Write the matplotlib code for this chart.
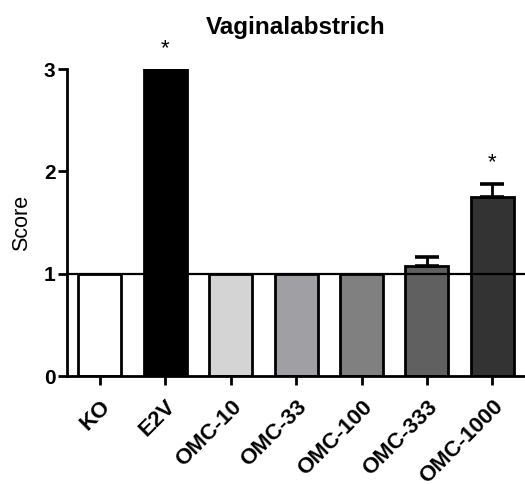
import numpy as np
import matplotlib.pyplot as plt
import matplotlib.transforms as mtransforms

plt.rcParams['font.family'] = ['Liberation Sans', 'DejaVu Sans']

groups = ["KO", "E2V", "OMC-10", "OMC-33", "OMC-100", "OMC-333", "OMC-1000"]
scores = [1.0, 3.0, 1.0, 1.0, 1.0, 1.08, 1.75]
sem = [0.0, 0.0, 0.0, 0.0, 0.0, 0.08, 0.13]
significant = [False, True, False, False, False, False, True]
colors = ["#ffffff", "#000000", "#d4d4d4", "#a0a0a4", "#808080", "#606060", "#333333"]

fig = plt.figure(figsize=(5.25, 4.84), dpi=100)
ax = fig.add_axes([0.128, 0.223, 0.872, 0.634])

x = np.arange(len(groups))
ax.bar(x, scores, width=0.66, color=colors, edgecolor="black", linewidth=2.0, zorder=2)

# only groups with a non-zero SEM get an error bar (upper half only)
has_err = np.array(sem) > 0
ax.errorbar(x[has_err], np.array(scores)[has_err],
            yerr=[np.zeros(has_err.sum()), np.array(sem)[has_err]],
            fmt="none", ecolor="black", elinewidth=2.0, capsize=8.5, capthick=2.6, zorder=3)
ax.axhline(1, color="black", linewidth=1.6, zorder=4)

for xi, s, e, sig in zip(x, scores, sem, significant):
    if sig:
        ax.annotate("*", (xi, s + e), xytext=(0, 15), textcoords="offset points",
                    ha="center", va="center", fontsize=16, annotation_clip=False)

ax.set_xlim(-0.5, 6.5)
ax.set_ylim(0, 3)
ax.set_yticks([0, 1, 2, 3])
ax.set_xticks(x)
ax.set_xticklabels(groups, rotation=45, ha="right", va="top", rotation_mode="anchor",
                   fontweight="bold", fontsize=16)
shift = mtransforms.ScaledTranslation(4 / 72, 0, fig.dpi_scale_trans)
for lab in ax.get_xticklabels():
    lab.set_transform(lab.get_transform() + shift)
for lab in ax.get_yticklabels():
    lab.set_fontweight("bold")
    lab.set_fontsize(15)

ax.spines["top"].set_visible(False)
ax.spines["right"].set_visible(False)
for sp in ("left", "bottom"):
    ax.spines[sp].set_linewidth(2.0)
ax.tick_params(width=2.0, length=6.5, direction="out")
ax.tick_params(axis="x", pad=8)
ax.tick_params(axis="y", pad=2)

ax.set_ylabel("Score", fontsize=15.5, labelpad=8)
ax.set_title("Vaginalabstrich", fontsize=17.5, fontweight="bold", pad=25)

fig.savefig("out.png", dpi=100)
